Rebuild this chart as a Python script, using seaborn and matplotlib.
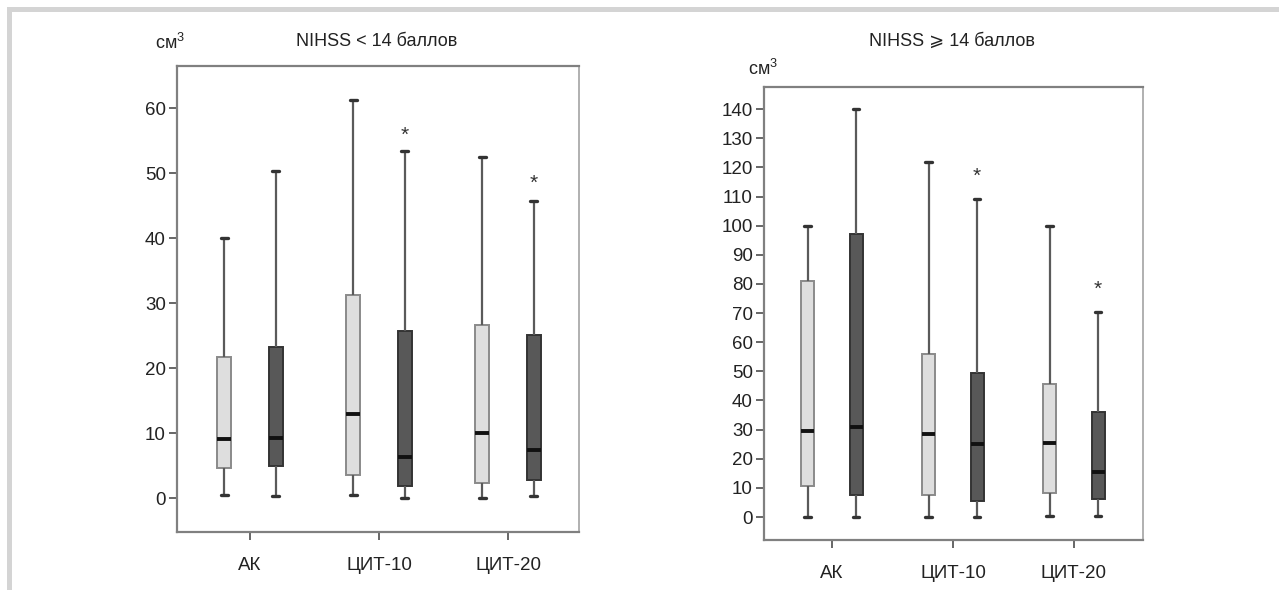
import pandas as pd
import seaborn as sns
import matplotlib.pyplot as plt
from matplotlib.patches import Rectangle
from matplotlib.colors import to_rgb


groups = ["АК", "ЦИТ-10", "ЦИТ-20"]
series = ["светлые", "тёмные"]

# пять чисел на ящик: минимум, Q1, медиана, Q3, максимум
# NIHSS < 14
low_light = [[0.5, 4.6, 9.1, 21.8, 40.0],
             [0.5, 3.5, 13.0, 31.2, 61.2],
             [0.0, 2.3, 10.0, 26.6, 52.5]]
low_dark = [[0.4, 5.0, 9.2, 23.2, 50.4],
            [0.0, 1.9, 6.3, 25.8, 53.5],
            [0.3, 2.8, 7.4, 25.1, 45.7]]
low_stars = [55.8, 48.5]

# NIHSS >= 14
high_light = [[0.0, 10.5, 29.5, 81.0, 100.0],
              [0.0, 7.5, 28.5, 56.0, 122.0],
              [0.3, 8.2, 25.4, 45.7, 100.0]]
high_dark = [[0.0, 7.5, 31.0, 97.0, 140.0],
             [0.0, 5.5, 25.0, 49.5, 109.0],
             [0.3, 6.2, 15.5, 36.0, 70.4]]
high_stars = [117.0, 78.3]

low_ticks = list(range(0, 61, 10))
high_ticks = list(range(0, 141, 10))


def to_long(light, dark):
    rows = []
    for name, boxes in zip(series, [light, dark]):
        for g, vals in zip(groups, boxes):
            for v in vals:
                rows.append({"group": g, "series": name, "value": v})
    return pd.DataFrame(rows)


def draw_panel(ax, df, stars, ticks, ylim, xlim):
    sns.boxplot(
        data=df, x="group", y="value", hue="series",
        order=groups, hue_order=series,
        palette=["#dedede", "#585858"],
        whis=(0, 100), width=0.8, gap=0.73,
        linecolor="#666666", linewidth=1.4,
        medianprops={"color": "#111111", "linewidth": 2.8},
        capprops={"color": "#333333", "linewidth": 2.4},
        whiskerprops={"color": "#5a5a5a", "linewidth": 1.6},
        legend=False, ax=ax,
    )
    # тёмные ящики с тёмной обводкой
    for p in ax.patches:
        if sum(to_rgb(p.get_facecolor())) < 1.5:
            p.set_edgecolor("#333333")
        else:
            p.set_edgecolor("#8a8a8a")

    for i, y in enumerate(stars):
        ax.text(i + 1.2, y, "*", ha="center", va="center",
                fontsize=15, color="#333333")

    ax.set_ylim(*ylim)
    ax.set_xlim(*xlim)
    ax.set_yticks(ticks)
    ax.set_xlabel("")
    ax.set_ylabel("")
    ax.tick_params(axis="y", left=True, length=6, width=1.4,
                   color="#666666", labelsize=13.5, pad=2,
                   labelcolor="#222222")
    ax.tick_params(axis="x", bottom=True, length=6, width=1.4,
                   color="#666666", labelsize=13.5, pad=12,
                   labelcolor="#222222")
    for side in ["left", "bottom", "top"]:
        ax.spines[side].set_color("#808080")
        ax.spines[side].set_linewidth(1.6)
    ax.spines["right"].set_color("#b0b0b0")
    ax.spines["right"].set_linewidth(1.4)


sns.set_style("white")
plt.rcParams["font.family"] = ["Liberation Sans", "DejaVu Sans"]
plt.rcParams["mathtext.fontset"] = "custom"
plt.rcParams["mathtext.rm"] = "Liberation Sans"
plt.rcParams["mathtext.it"] = "Liberation Sans"

fig = plt.figure(figsize=(12.79, 5.9), dpi=100)

ax1 = fig.add_axes([0.1384, 0.0983, 0.3143, 0.7898])
draw_panel(ax1, to_long(low_light, low_dark), low_stars, low_ticks,
           (-5.2, 66.5), (-0.566, 2.55))

ax2 = fig.add_axes([0.5973, 0.0847, 0.2963, 0.7678])
draw_panel(ax2, to_long(high_light, high_dark), high_stars, high_ticks,
           (-7.9, 147.6), (-0.562, 2.57))

# подписи
fig.text(377 / 1279, 1 - 42 / 590, "NIHSS < 14 баллов", ha="center",
         va="center", fontsize=13, color="#222222")
fig.text(170 / 1279, 1 - 43 / 590, "см$^{\\mathrm{3}}$", ha="center",
         va="center", fontsize=13, color="#222222")
fig.text(952 / 1279, 1 - 41 / 590, "NIHSS ⩾ 14 баллов", ha="center",
         va="center", fontsize=13, color="#222222")
fig.text(763 / 1279, 1 - 69 / 590, "см$^{\\mathrm{3}}$", ha="center",
         va="center", fontsize=13, color="#222222")

# серая рамка сверху и слева
fig.add_artist(Rectangle((7 / 1279, 1 - 12 / 590), 1, 5 / 590,
                         transform=fig.transFigure, color="#d4d4d4", lw=0))
fig.add_artist(Rectangle((7 / 1279, 0), 5 / 1279, 1 - 7 / 590,
                         transform=fig.transFigure, color="#d4d4d4", lw=0))

fig.savefig("out.png", dpi=100)
